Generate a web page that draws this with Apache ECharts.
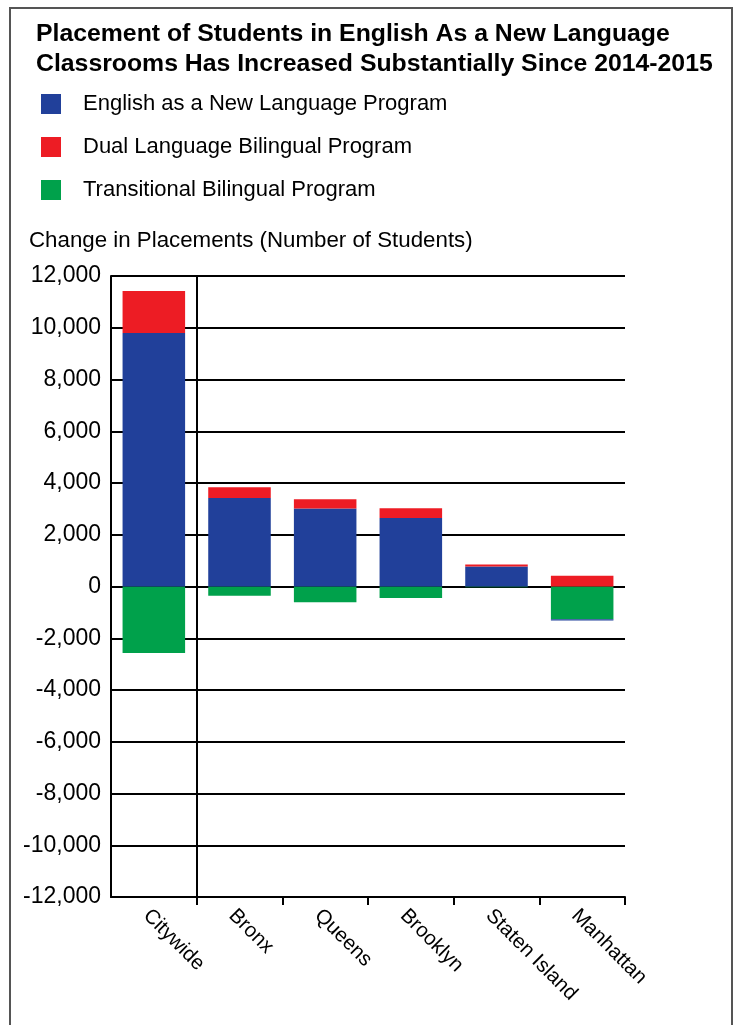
<!DOCTYPE html>
<html>
<head>
<meta charset="utf-8">
<script src="https://cdn.jsdelivr.net/npm/echarts@6/dist/echarts.min.js"></script>
<style>
  html, body { margin: 0; padding: 0; background: #fff; overflow: hidden; }
  #chart { position: absolute; left: 0; top: 0; width: 734px; height: 1025px; }
  #frame { position: absolute; left: 9px; top: 7px; width: 720px; height: 1100px;
           border: 2px solid #555; pointer-events: none; }
</style>
</head>
<body>
<div id="chart"></div>
<div id="frame"></div>
<script>
// 各区的学生安置变化（人数）
const categories = ['Citywide', 'Bronx', 'Queens', 'Brooklyn', 'Staten Island', 'Manhattan'];
const enlValues = [9800, 3420, 3010, 2650, 770, -40];
const dualValues = [1620, 420, 360, 370, 80, 420];
const transValues = [-2570, -360, -610, -440, -30, -1270];
const yTicks = { min: -12000, max: 12000, interval: 2000 };
// Citywide 与各区之间的分隔线（以类目边界计）
const dividerAt = [1];

const seriesNames = {
  enl: 'English as a New Language Program',
  dual: 'Dual Language Bilingual Program',
  trans: 'Transitional Bilingual Program',
};

const font = 'Liberation Sans, Arial, sans-serif';
const chart = echarts.init(document.getElementById('chart'));

const barCommon = {
  type: 'bar',
  stack: 'total',
  barWidth: '73%',
};

const option = {
  animation: false,
  title: [
    {
      text: 'Placement of Students in English As a New Language\nClassrooms Has Increased Substantially Since 2014-2015',
      left: 31,
      top: 14,
      textStyle: { fontFamily: font, fontSize: 24.8, fontWeight: 'bold', color: '#000', lineHeight: 30 },
    },
    {
      text: 'Change in Placements (Number of Students)',
      left: 24,
      top: 225,
      textStyle: { fontFamily: font, fontSize: 22.3, fontWeight: 'normal', color: '#000' },
    },
  ],
  legend: {
    orient: 'vertical',
    left: 36,
    top: 88,
    itemWidth: 20,
    itemHeight: 20,
    itemGap: 21,
    icon: 'rect',
    data: [seriesNames.enl, seriesNames.dual, seriesNames.trans],
    textStyle: { fontFamily: font, fontSize: 22, lineHeight: 20, color: '#000', padding: [0, 0, 0, 17] },
  },
  grid: { left: 111, right: 109, top: 276, bottom: 128 },
  xAxis: [
    {
      type: 'category',
      data: categories,
      axisLine: { onZero: false, lineStyle: { color: '#000', width: 2 } },
      axisTick: { show: true, length: 8, interval: (i) => i !== 0, lineStyle: { color: '#000', width: 2 } },
      axisLabel: {
        rotate: -45,
        color: '#000',
        fontFamily: font,
        fontSize: 20.5,
        margin: 8,
        interval: 0,
        verticalAlign: 'top',
      },
      splitLine: { show: false },
    },
    {
      // 隐藏的数值轴，只用来定位分隔线
      type: 'value',
      min: 0,
      max: categories.length,
      show: false,
    },
  ],
  yAxis: {
    type: 'value',
    min: yTicks.min,
    max: yTicks.max,
    interval: yTicks.interval,
    axisLine: { show: true, lineStyle: { color: '#000', width: 2 } },
    axisTick: { show: false },
    axisLabel: { color: '#000', fontFamily: font, fontSize: 23, margin: 10 },
    splitLine: { show: true, lineStyle: { color: '#000', width: 2 } },
  },
  // 负值先堆绿色再堆蓝色，所以系列顺序是 绿、蓝、红
  series: [
    Object.assign({ name: seriesNames.trans, data: transValues, itemStyle: { color: '#00a14b' } }, barCommon),
    Object.assign({ name: seriesNames.enl, data: enlValues, itemStyle: { color: '#21409a' } }, barCommon),
    Object.assign({ name: seriesNames.dual, data: dualValues, itemStyle: { color: '#ed1c24' } }, barCommon),
    {
      type: 'line',
      xAxisIndex: 1,
      data: [],
      silent: true,
      markLine: {
        silent: true,
        symbol: 'none',
        label: { show: false },
        lineStyle: { color: '#000', width: 2, type: 'solid' },
        data: dividerAt.map((v) => ({ xAxis: v })),
      },
    },
  ],
};

chart.setOption(option);
</script>
</body>
</html>
